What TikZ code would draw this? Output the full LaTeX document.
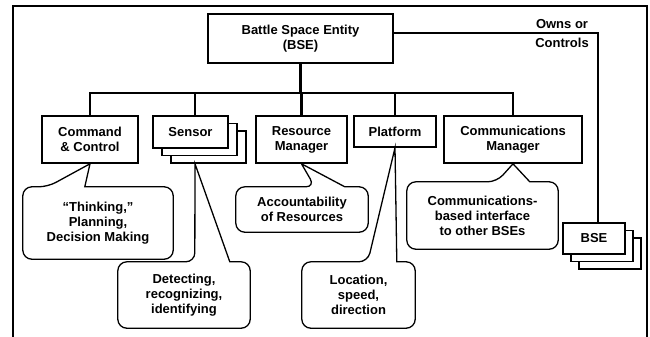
\documentclass[tikz,border=0pt]{standalone}
\usepackage{fontspec}
\setmainfont{Liberation Sans}
\usetikzlibrary{shadows}

\begin{document}
\begin{tikzpicture}[x=1pt,y=-1pt,
  font=\fontsize{13}{15}\selectfont\bfseries,
  entity/.style={draw,line width=1.6pt,fill=white,align=center,inner sep=0pt},
  stack/.style={entity,double copy shadow={shadow xshift=#1,shadow yshift=-7.5pt}},
  note/.style={align=center,inner sep=0pt},
  link/.style={line width=2.4pt},
  balloon/.style={line width=1.3pt,rounded corners=9pt}]

  \useasboundingbox (0,0) rectangle (650,337);
  \draw [line width=1.5pt] (13,360) -- (13,6) -- (647,6) -- (647,360);

  % The entity and its parts

  \node [entity, minimum width=185pt, minimum height=49pt] (bse) at (300.5,38.5)
    {Battle Space Entity\\(BSE)};
  \node [entity, minimum width=96pt, minimum height=47pt] (cc) at (90,139.5)
    {Command\\\& Control};
  \node [stack=9pt, minimum width=75pt, minimum height=32pt] (sen) at (190.5,132)
    {Sensor};
  \node [entity, minimum width=91pt, minimum height=47pt] (rm) at (301.5,139.5)
    {Resource\\Manager};
  \node [entity, minimum width=82pt, minimum height=31pt] (pf) at (395,131.5)
    {Platform};
  \node [entity, minimum width=138pt, minimum height=47pt] (cm) at (513,139.5)
    {Communications\\Manager};
  \node [stack=8pt, minimum width=62pt, minimum height=31pt] (bs2) at (594,238.5)
    {BSE};

  % Tree lines from the entity down to its parts

  \coordinate (bus) at (0,93);
  \draw [link] (bse.south) -- (bse.south |- bus);
  \draw [link] (cc.north) -- (cc.north |- bus) -- (cm.north |- bus) -- (cm.north);
  \draw [link] ([xshift=4.5pt]sen.north) -- ([xshift=4.5pt]sen.north |- bus);
  \draw [link] (rm.north) -- (rm.north |- bus);
  \draw [link] (pf.north) -- (pf.north |- bus);

  % Owned or controlled entities

  \draw [line width=2pt] ([yshift=5.5pt]bse.east) -| ([xshift=4pt]bs2.north);
  \node [note] (own) at (562,34) {Owns or\\[4pt]Controls};

  % Callouts

  \node [note, minimum width=150pt, minimum height=72pt] (thk) at (98,223)
    {“Thinking,”\\Planning,\\Decision Making};
  \node [note, minimum width=132pt, minimum height=66pt] (det) at (184,295)
    {Detecting,\\recognizing,\\identifying};
  \node [note, minimum width=132pt, minimum height=45pt] (acc) at (302,209.5)
    {Accountability\\of Resources};
  \node [note, minimum width=113pt, minimum height=66pt] (loc) at (358.5,295)
    {Location,\\speed,\\direction};
  \node [note, minimum width=151pt, minimum height=67pt] (com) at (482.5,215.5)
    {Communications-\\based interface\\to other BSEs};

  \coordinate (sentip) at ([xshift=4.5pt,yshift=-15pt]sen.south);
  \foreach \n/\t/\a/\b in {thk/cc.south/25/62, det/sentip/77/112,
      acc/rm.south/79/109, loc/pf.south/66/95, com/cm.south/90/123}
    \draw [balloon] (\n.west) -- (\n.north west) -- ([xshift=\a pt]\n.north west)
      [sharp corners] -- (\t) -- ([xshift=\b pt]\n.north west)
      [rounded corners=9pt] -- (\n.north east) -- (\n.south east)
      -- (\n.south west) -- cycle;
\end{tikzpicture}
\end{document}
